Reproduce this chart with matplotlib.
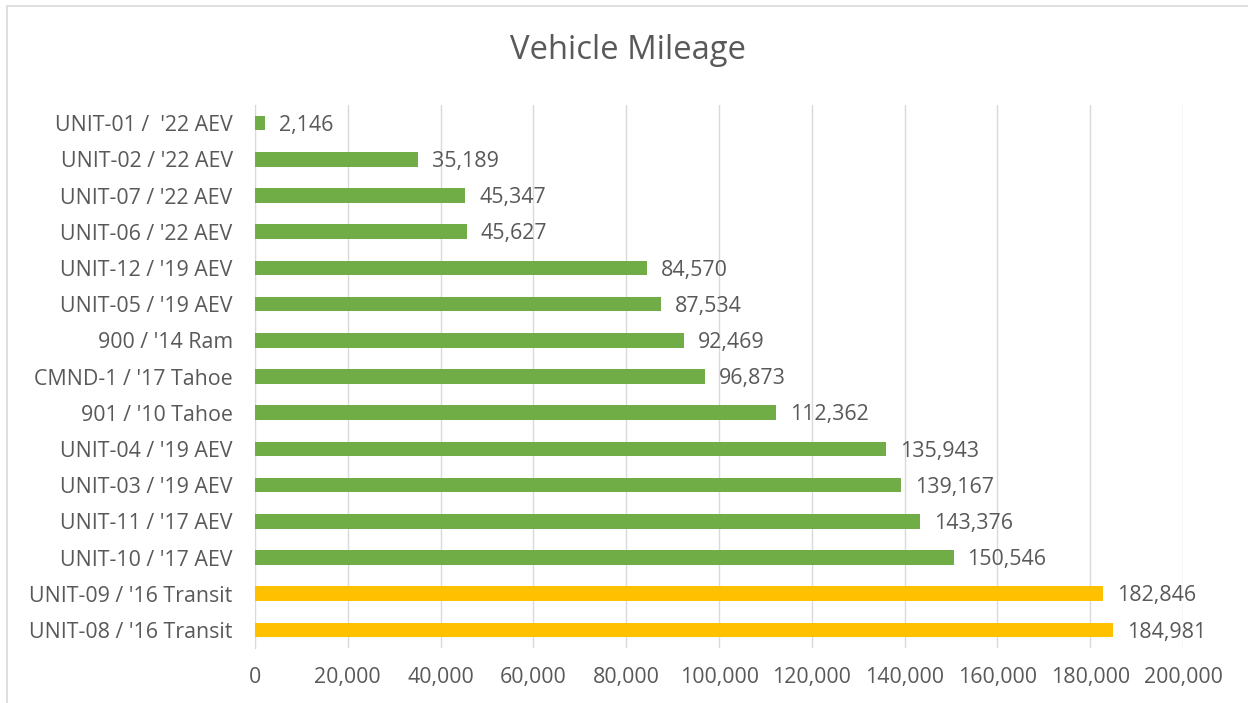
import matplotlib.pyplot as plt
import matplotlib
from matplotlib.patches import Rectangle
from matplotlib.ticker import FuncFormatter

matplotlib.rc('font', family='Open Sans')

# data, top to bottom as in the chart
labels = ["UNIT-01 /  '22 AEV", "UNIT-02 / '22 AEV", "UNIT-07 / '22 AEV", "UNIT-06 / '22 AEV",
          "UNIT-12 / '19 AEV", "UNIT-05 / '19 AEV", "900 / '14 Ram", "CMND-1 / '17 Tahoe",
          "901 / '10 Tahoe", "UNIT-04 / '19 AEV", "UNIT-03 / '19 AEV", "UNIT-11 / '17 AEV",
          "UNIT-10 / '17 AEV", "UNIT-09 / '16 Transit", "UNIT-08 / '16 Transit"]
mileage = [2146, 35189, 45347, 45627, 84570, 87534, 92469, 96873,
           112362, 135943, 139167, 143376, 150546, 182846, 184981]
vehicle_type = ['AEV'] * 13 + ['Transit'] * 2

green = '#70AD47'
gold = '#FFC000'
txt = '#595959'
grid = '#D9D9D9'

fig = plt.figure(figsize=(12.48, 7.03), dpi=100)
ax = fig.add_axes([0.2043, 0.0782, 0.7437, 0.7724])

ypos = list(range(len(labels)))[::-1]
colors = [gold if t == 'Transit' else green for t in vehicle_type]
ax.barh(ypos, mileage, height=0.4, color=colors, zorder=3)

for y, v in zip(ypos, mileage):
    ax.annotate(f'{v:,}', (v, y), xytext=(10, -1.5), textcoords='offset points',
                va='center', ha='left', fontsize=15.4, color=txt)

ax.set_xlim(0, 200000)
ax.set_ylim(-0.5, len(labels) - 0.5)
ax.set_xticks(range(0, 200001, 20000))
ax.xaxis.set_major_formatter(FuncFormatter(lambda x, p: f'{int(x):,}'))
ax.set_yticks(ypos)
ax.set_yticklabels(labels)
ax.tick_params(axis='both', length=0, labelsize=15.4, colors=txt)
ax.tick_params(axis='x', pad=14)
ax.tick_params(axis='y', pad=16)
ax.grid(axis='x', color=grid, linewidth=1, zorder=0)
for s in ['top', 'right', 'bottom']:
    ax.spines[s].set_visible(False)
ax.spines['left'].set_color(grid)

fig.text(0.503, 0.928, 'Vehicle Mileage', ha='center', va='center', fontsize=23.6, color=txt)

fig.patches.append(Rectangle((0.0056, -0.01), 1.0, 1.0015, transform=fig.transFigure,
                             fill=False, edgecolor=grid, linewidth=1.2))

fig.savefig('out.png', dpi=100)
